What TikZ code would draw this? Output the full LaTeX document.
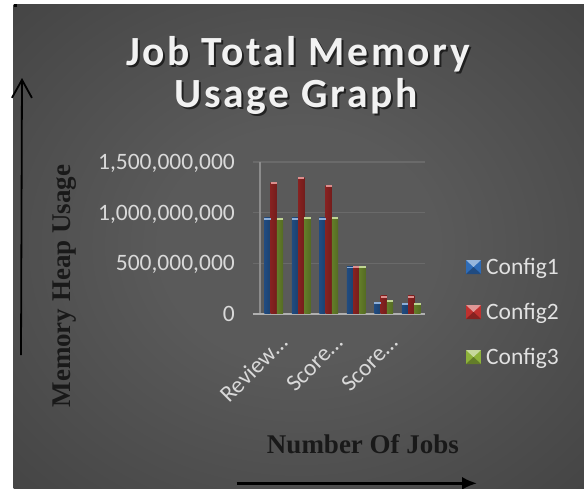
\documentclass[tikz,border=0pt]{standalone}
\usepackage{fontspec}
\setmainfont{Carlito}
\newfontfamily\timesfont{Liberation Serif}
\usetikzlibrary{arrows.meta}

\definecolor{bgin}{HTML}{5A5A5A}
\definecolor{bgout}{HTML}{252525}
\definecolor{gridgray}{HTML}{6A6A6A}
\definecolor{axisgray}{HTML}{8C8C8C}
\definecolor{basegray}{HTML}{B0B0B0}
\definecolor{ticktext}{HTML}{D9D9D9}
\definecolor{cfgblue}{HTML}{2E6CB8}
\definecolor{cfgred}{HTML}{C0302E}
\definecolor{cfggreen}{HTML}{8DB23A}

\pgfdeclareradialshading{bgglow}{\pgfpoint{0bp}{0bp}}{color(0bp)=(bgin); color(12bp)=(bgin); color(71bp)=(bgout)}

\tikzset{
  ticklabel/.style={text=ticktext, font=\fontsize{23.5}{28}\selectfont, anchor=base east, inner sep=0pt},
  catlabel/.style={ticklabel, rotate=45},
  legtext/.style={ticklabel, text=ticktext!80!white, anchor=base west},
  titletext/.style={font=\fontsize{41.5}{48}\bfseries\addfontfeature{LetterSpace=6.5}, anchor=base, inner sep=0pt},
  axistitle/.style={font=\fontsize{27}{32}\timesfont\bfseries, text=black!90, anchor=base, inner sep=0pt},
  bluebar/.style={left color=cfgblue!70!black, middle color=cfgblue!85!white, right color=cfgblue!60!black},
  redbar/.style={left color=cfgred!70!black, middle color=cfgred!85!white, right color=cfgred!60!black},
  greenbar/.style={left color=cfggreen!70!black, middle color=cfggreen!85!white, right color=cfggreen!60!black},
}

\begin{document}
\begin{tikzpicture}[x=1pt,y=-1pt]
\useasboundingbox (0,0) rectangle (584,488);
\fill[white] (0,0) rectangle (584,488);
\shade[shading=bgglow] (13.5,4) rectangle (584,488);
\fill[black] (13.5,4) rectangle (16.5,7);

% title with its shadow
\node[titletext, text=black, opacity=.6] at (300,67) {Job Total Memory};
\node[titletext, text=black, opacity=.6] at (298,109.3) {Usage Graph};
\node[titletext, text=white!95!black] (title1) at (298,65) {Job Total Memory};
\node[titletext, text=white!95!black] (title2) at (296,107.3) {Usage Graph};

% grid and axes
\foreach \y in {162,212.7,263.3}
  \draw[gridgray, line width=1.4pt] (252.7,\y) -- (425,\y);
\draw[axisgray, line width=1.3pt] (260,162) -- (260,314);
\draw[basegray, line width=2.3pt] (252.7,314) -- (425,314);

\node[ticklabel] (t15) at (235,169.3) {1,500,000,000};
\node[ticklabel] (t10) at (235,220) {1,000,000,000};
\node[ticklabel] (t05) at (235,270.6) {500,000,000};
\node[ticklabel] (t00) at (235,321.3) {0};

% bars, values in billions
\foreach \i/\a/\b/\c in {0/0.95/1.30/0.945, 1/0.95/1.35/0.955, 2/0.95/1.27/0.955,
                         3/0.467/0.47/0.47, 4/0.115/0.178/0.138, 5/0.105/0.178/0.105} {
  \pgfmathsetmacro\cx{273.75+27.5*\i}
  \fill[bluebar] (\cx-9.45,313) rectangle (\cx-3.15,{314-101.33*\a});
  \fill[redbar] (\cx-3.15,313) rectangle (\cx+3.15,{314-101.33*\b});
  \fill[greenbar] (\cx+3.15,313) rectangle (\cx+9.45,{314-101.33*\c});
  \fill[cfgblue!55!white] (\cx-9.45,{314-101.33*\a}) rectangle +(6.3,1.8);
  \fill[cfgred!55!white] (\cx-3.15,{314-101.33*\b}) rectangle +(6.3,1.8);
  \fill[cfggreen!55!white] (\cx+3.15,{314-101.33*\c}) rectangle +(6.3,1.8);
}

\node[catlabel] (cat1) at (289,344) {Review…};
\node[catlabel] (cat3) at (344,344) {Score…};
\node[catlabel] (cat5) at (399,344) {Score…};

% legend
\foreach \n/\y/\col in {1/267/cfgblue, 2/312/cfgred, 3/357/cfggreen} {
  \fill[\col] (466,\y-7) rectangle (481,\y+7);
  \fill[\col!50!white] (466,\y-7) -- (481,\y-7) -- (473.5,\y) -- cycle;
  \fill[\col!70!black] (466,\y+7) -- (481,\y+7) -- (473.5,\y) -- cycle;
  \node[legtext] (leg\n) at (486,\y+7.3) {Config\n};
}

% axis titles and arrows
\node[axistitle, rotate=90] (ytitle) at (70.7,286) {Memory Heap Usage};
\node[axistitle] (xtitle) at (363,453.3) {Number Of Jobs};
\coordinate (ybot) at (21,355);
\coordinate (ytop) at (22,78);
\draw[line width=1.8pt, -{Straight Barb[length=18pt,width=20pt,line width=1.8pt]}] (ybot) -- (ytop);
\coordinate (xleft) at (236.5,483.3);
\coordinate (xright) at (477,483.3);
\draw[line width=2.6pt, -{Latex[length=15pt,width=13pt]}] (xleft) -- (xright);
\end{tikzpicture}
\end{document}
